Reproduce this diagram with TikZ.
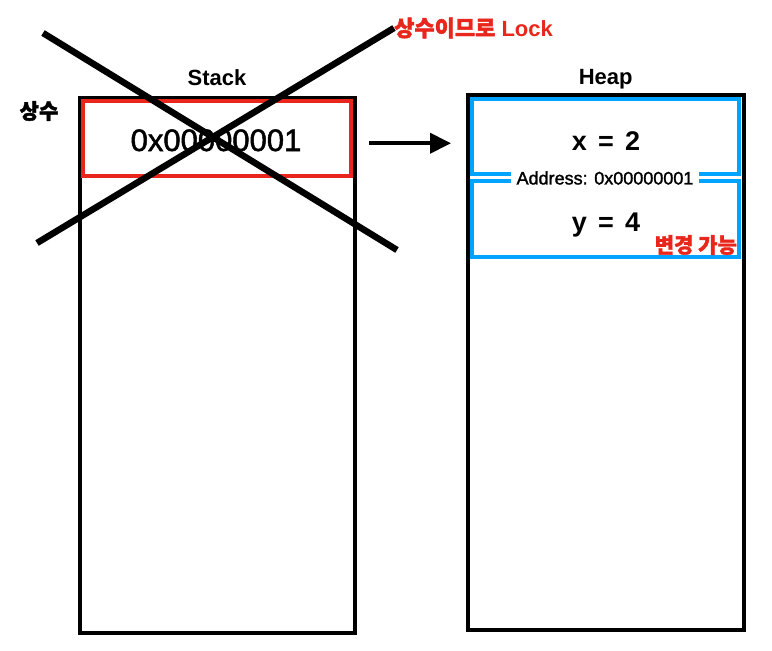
\documentclass[tikz,border=0pt]{standalone}
\usepackage{fontspec}
\setmainfont{Liberation Sans}
\newfontfamily\medfont{Liberation Sans}[FakeBold=1.6]
\newfontfamily\krfont{Noto Sans CJK KR}[BoldFeatures={FakeBold=1.8}]
\usetikzlibrary{arrows.meta,positioning}
\definecolor{cred}{HTML}{E8261C}
\definecolor{cblue}{HTML}{00A3FF}

\begin{document}
\begin{tikzpicture}[
  x=1pt, y=-1pt,
  mem/.style={draw=black, line width=4pt, minimum width=275pt, minimum height=535pt, inner sep=0pt},
  slot/.style={draw=cred, line width=4pt, minimum width=268pt, minimum height=75.5pt, inner sep=0pt},
  cell/.style={draw=cblue, line width=4pt, minimum width=267pt, minimum height=75pt, inner sep=0pt},
  title/.style={font=\bfseries\fontsize{22}{26}\selectfont, inner sep=0pt, text depth=0pt},
  val/.style={font=\medfont\fontsize{31}{36}\selectfont, inner sep=0pt, anchor=base},
  field/.style={font=\bfseries\fontsize{27}{32}\selectfont, inner sep=0pt, anchor=base},
  note/.style={font=\krfont\bfseries\fontsize{21}{25}\selectfont, inner sep=0pt},
  arr/.style={-{Triangle[length=21pt,width=20pt]}, line width=4pt},
  cross/.style={line width=6.5pt},
]
\useasboundingbox (0,0) rectangle (772,651);
% ---------- stack ----------
\node[mem] (stack) at (217,365.4) {};
\node[slot] (slot) at (217.25,138.25) {};
\node[val] (ptr) at (216,151) {0x00000001};
\node[title, above=10pt of stack] (stacktitle) {Stack};
\node[note, text=black] (const) at (39,111) {상수};
% ---------- heap ----------
\node[mem, minimum width=275.5pt] (heap) at (605.75,362.5) {};
\node[title, above=8pt of heap] (heaptitle) {Heap};
\node[cell] (cellx) at (605.5,136.5) {};
\node[cell, minimum height=76pt] (celly) at (605.5,219) {};
\node[field] (valx) at (606,150) {x\hspace{0.42em}=\hspace{0.42em}2};
\node[field] (valy) at (606,231) {y\hspace{0.42em}=\hspace{0.42em}4};
\node[fill=white, inner xsep=6pt, inner ysep=1pt, font=\medfont\fontsize{18}{21}\selectfont] (addr) at (605,178) {Address: 0x00000001};
\node[note, text=cred, anchor=east] (mutable) at (737,245) {변경 가능};
% ---------- pointer ----------
\draw[arr, shorten <=16pt, shorten >=15pt] ([yshift=-5pt]slot.east) -- ([yshift=-5pt]slot.east -| heap.west);
% ---------- the cross: constant is locked ----------
\node[note, text=cred, anchor=west, font=\bfseries\fontsize{22}{26}\selectfont] (lock) at (394,28) {{\krfont 상수이므로} Lock};
\coordinate (crossA) at (43,33);
\coordinate (crossB) at (397,250);
\coordinate (crossC) at (37,243);
\draw[cross] (crossA) -- (crossB);
\draw[cross] (crossC) -- (lock.west);
\end{tikzpicture}
\end{document}
